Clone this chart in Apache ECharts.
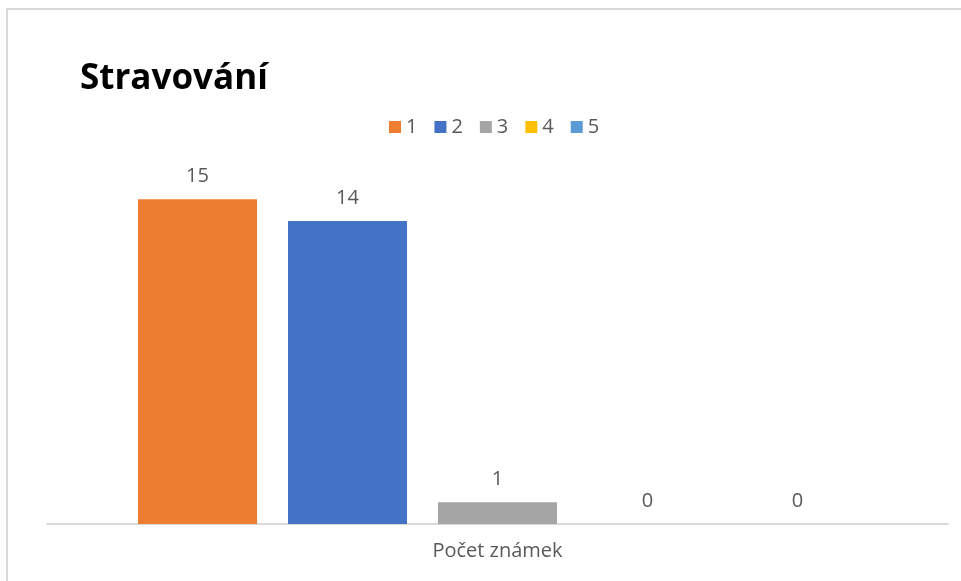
<!DOCTYPE html>
<html>
<head>
<meta charset="utf-8">
<script src="https://cdn.jsdelivr.net/npm/echarts@6/dist/echarts.min.js"></script>
<style>
  html, body { margin: 0; padding: 0; background: #fff; }
  #chart { width: 961px; height: 581px; }
</style>
</head>
<body>
<div id="chart"></div>
<script>
// data
var categories = ["Počet známek"];
var seriesNames = ["1", "2", "3", "4", "5"];
var seriesValues = [15, 14, 1, 0, 0];
var seriesColors = ["#ED7D31", "#4472C4", "#A5A5A5", "#FFC000", "#5B9BD5"];

var chart = echarts.init(document.getElementById("chart"));

var series = seriesNames.map(function (name, i) {
    return {
        name: name,
        type: "bar",
        data: [seriesValues[i]],
        barGap: "26%",
        barCategoryGap: "20.2%",
        itemStyle: { color: seriesColors[i] },
        label: {
            show: true,
            position: "top",
            distance: 13,
            color: "#595959",
            fontSize: 20,
            fontFamily: "Open Sans"
        },
        animation: false
    };
});

var option = {
    backgroundColor: "#fff",
    title: {
        text: "Stravování",
        left: 75,
        top: 57,
        textStyle: {
            color: "#000",
            fontSize: 35,
            fontWeight: "bold",
            fontFamily: "Open Sans"
        }
    },
    legend: {
        data: seriesNames,
        left: 384,
        top: 112,
        icon: "rect",
        itemWidth: 12,
        itemHeight: 12,
        itemGap: 17,
        textStyle: { color: "#595959", fontSize: 20, fontFamily: "Open Sans" }
    },
    grid: {
        left: 47,
        right: 13,
        top: 91,
        bottom: 57,
        containLabel: false
    },
    xAxis: {
        type: "category",
        data: categories,
        axisTick: { show: false },
        axisLine: { lineStyle: { color: "#d9d9d9", width: 2 } },
        axisLabel: {
            color: "#595959",
            fontSize: 20,
            fontFamily: "Open Sans",
            margin: 17
        }
    },
    yAxis: {
        type: "value",
        min: 0,
        max: 20,
        show: false,
        splitLine: { show: false }
    },
    graphic: [{
        type: "rect",
        shape: { x: 7, y: 9, width: 1000, height: 1000 },
        style: { fill: "none", stroke: "#d9d9d9", lineWidth: 2 },
        silent: true
    }],
    series: series
};

chart.setOption(option);
</script>
</body>
</html>
